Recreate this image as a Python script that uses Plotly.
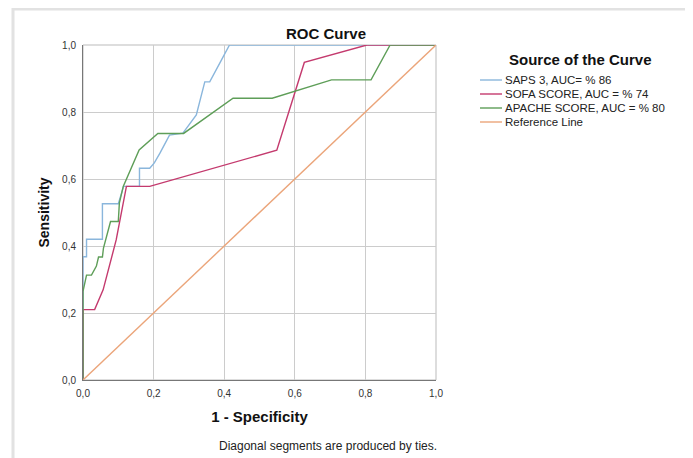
import plotly.graph_objects as go

# ---- data ----
saps_x = [0, 0, 0.01, 0.01, 0.055, 0.055, 0.10, 0.115, 0.16, 0.16, 0.189, 0.202, 0.218, 0.245, 0.283, 0.321, 0.345, 0.359, 0.392, 0.415, 1.0]
saps_y = [0, 0.368, 0.368, 0.42, 0.42, 0.526, 0.526, 0.578, 0.578, 0.632, 0.632, 0.648, 0.677, 0.731, 0.737, 0.791, 0.89, 0.89, 0.955, 1.0, 1.0]

sofa_x = [0, 0, 0.033, 0.057, 0.094, 0.123, 0.189, 0.549, 0.627, 0.804, 1.0]
sofa_y = [0, 0.21, 0.21, 0.269, 0.418, 0.578, 0.578, 0.686, 0.948, 1.0, 1.0]

apache_x = [0, 0, 0.01, 0.024, 0.038, 0.044, 0.055, 0.058, 0.078, 0.10, 0.103, 0.114, 0.159, 0.212, 0.285, 0.425, 0.536, 0.704, 0.816, 0.87, 1.0]
apache_y = [0, 0.265, 0.313, 0.313, 0.34, 0.367, 0.367, 0.394, 0.473, 0.473, 0.528, 0.578, 0.687, 0.736, 0.736, 0.841, 0.841, 0.896, 0.896, 1.0, 1.0]

ref_x = [0, 1]
ref_y = [0, 1]

names = ["SAPS 3, AUC= % 86", "SOFA SCORE, AUC = % 74", "APACHE SCORE, AUC = % 80", "Reference Line"]
colors = ["#8ab6dc", "#c43a6e", "#5e9e58", "#eba57a"]

tick_vals = [0, 0.2, 0.4, 0.6, 0.8, 1.0]
tick_text = ["0,0", "0,2", "0,4", "0,6", "0,8", "1,0"]

FONT = "Liberation Sans, Arial, sans-serif"

# figure geometry (page has an 8px body margin)
W, H = 685, 450
ML, MT, MR, MB = 75, 37, 257, 78
PW = W - ML - MR
PH = H - MT - MB


def px_to_paper_x(px):
    return (px - 8 - ML) / PW


def py_to_paper_y(py):
    return (H - MB - (py - 8)) / PH


fig = go.Figure()
series = [(saps_x, saps_y), (sofa_x, sofa_y), (apache_x, apache_y), (ref_x, ref_y)]
for (xs, ys), nm, c in zip(series, names, colors):
    fig.add_trace(go.Scatter(x=xs, y=ys, mode="lines", name=nm, showlegend=False,
                             line=dict(color=c, width=1.4), hoverinfo="skip"))

axis_common = dict(range=[0, 1], tickvals=tick_vals, ticktext=tick_text,
                   showgrid=True, gridcolor="#cccccc", gridwidth=1,
                   zeroline=False, showline=True, linecolor="#777777", linewidth=1,
                   ticks="", tickfont=dict(family=FONT, size=10, color="#333333"),
                   fixedrange=True)

fig.update_xaxes(**axis_common, ticklabelstandoff=4,
                 title=dict(text="<b>1 - Specificity</b>", font=dict(family=FONT, size=15, color="#111111"), standoff=13))
fig.update_yaxes(**axis_common, ticklabelstandoff=4,
                 title=dict(text="<b>Sensitivity</b>", font=dict(family=FONT, size=14, color="#111111"), standoff=9))

shapes = [
    # plot area border
    dict(type="rect", xref="paper", yref="paper", x0=0, y0=0, x1=1, y1=1,
         line=dict(color="#bbbbbb", width=1), layer="below"),
    # outer frame
    dict(type="rect", xref="paper", yref="paper", x0=px_to_paper_x(13), y0=-0.3,
         x1=px_to_paper_x(688), y1=py_to_paper_y(9),
         line=dict(color="#e2e2e2", width=3), layer="below"),
]

annotations = [
    dict(text="<b>ROC Curve</b>", xref="paper", yref="paper", x=px_to_paper_x(326), y=py_to_paper_y(33),
         yanchor="middle", xanchor="center", showarrow=False, font=dict(family=FONT, size=15, color="#111111")),
    dict(text="<b>Source of the Curve</b>", xref="paper", yref="paper", x=px_to_paper_x(580), y=py_to_paper_y(59),
         xanchor="center", yanchor="middle", showarrow=False, font=dict(family=FONT, size=15, color="#111111")),
    dict(text="Diagonal segments are produced by ties.", xref="paper", yref="paper", x=px_to_paper_x(217),
         y=py_to_paper_y(446), xanchor="left", yanchor="middle", showarrow=False,
         font=dict(family=FONT, size=12, color="#222222")),
]

# manual legend (compact rows as in the reference)
row_y = [80, 94, 108, 122]
for nm, c, ry in zip(names, colors, row_y):
    shapes.append(dict(type="line", xref="paper", yref="paper",
                       x0=px_to_paper_x(480), x1=px_to_paper_x(502),
                       y0=py_to_paper_y(ry), y1=py_to_paper_y(ry),
                       line=dict(color=c, width=1.4)))
    annotations.append(dict(text=nm, xref="paper", yref="paper", x=px_to_paper_x(503), y=py_to_paper_y(ry),
                            xanchor="left", yanchor="middle", showarrow=False,
                            font=dict(family=FONT, size=11.5, color="#222222")))

fig.update_layout(
    width=W, height=H,
    margin=dict(l=ML, r=MR, t=MT, b=MB, pad=0),
    paper_bgcolor="white", plot_bgcolor="white",
    separators=",.",
    showlegend=False,
    shapes=shapes, annotations=annotations,
)

fig.write_html("out.html")
